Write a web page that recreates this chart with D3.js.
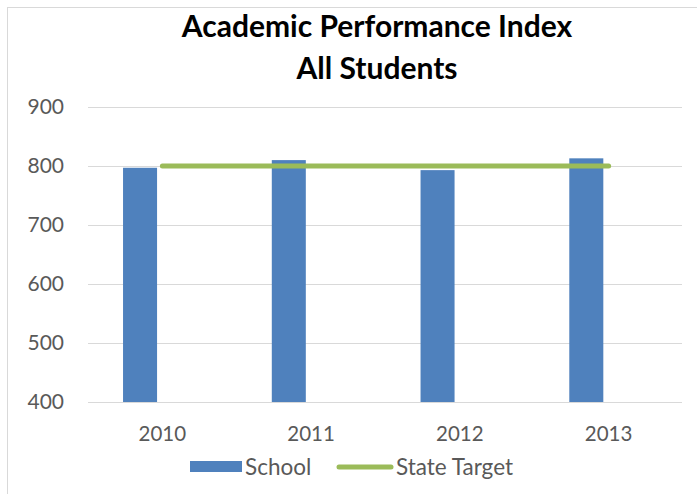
<!DOCTYPE html>
<html lang="en">
<head>
<meta charset="utf-8">
<title>Academic Performance Index</title>
<script src="https://d3js.org/d3.v7.min.js"></script>
<style>
  body { margin: 0; background: #fff; }
  svg { display: block; }
  text { font-family: Lato, "Open Sans", sans-serif; }
</style>
</head>
<body>
<script>
// data
var years = ["2010", "2011", "2012", "2013"];
var school = [797, 810, 793, 813];
var stateTarget = [800, 800, 800, 800];
var yTicks = [400, 500, 600, 700, 800, 900];

var width = 697, height = 494;

var svg = d3.select("body").append("svg")
    .attr("width", width)
    .attr("height", height);

// chart frame
svg.append("rect")
    .attr("x", 7.5).attr("y", 7.5)
    .attr("width", width).attr("height", height)
    .attr("fill", "#fff")
    .attr("stroke", "#d9d9d9")
    .attr("stroke-width", 1);

// title
var title = svg.append("text")
    .attr("text-anchor", "middle")
    .attr("font-weight", "bold")
    .attr("font-size", 30)
    .attr("fill", "#000");
title.append("tspan").attr("x", 377).attr("y", 37).text("Academic Performance Index");
title.append("tspan").attr("x", 377).attr("y", 79).text("All Students");

var x = d3.scaleBand()
    .domain(years)
    .range([88, 683])
    .paddingInner(0)
    .paddingOuter(0);

var sub = d3.scaleBand()
    .domain(["School", "State Target"])
    .range([0, x.bandwidth()])
    .paddingInner(0.238)
    .paddingOuter(0.785);

var y = d3.scaleLinear()
    .domain([400, 900])
    .range([402, 107]);

// gridlines
svg.append("g")
    .selectAll("line")
    .data(yTicks)
    .join("line")
    .attr("x1", 88).attr("x2", 682)
    .attr("y1", d => Math.round(y(d)) + 0.5)
    .attr("y2", d => Math.round(y(d)) + 0.5)
    .attr("stroke", "#d9d9d9")
    .attr("stroke-width", 1);

// y labels
svg.append("g")
    .selectAll("text")
    .data(yTicks)
    .join("text")
    .attr("x", 64)
    .attr("y", d => y(d))
    .attr("dy", "0.35em")
    .attr("text-anchor", "end")
    .attr("font-size", 21)
    .attr("fill", "#595959")
    .text(d => d);

// x labels
svg.append("g")
    .selectAll("text")
    .data(years)
    .join("text")
    .attr("x", d => x(d) + x.bandwidth() / 2)
    .attr("y", 441)
    .attr("text-anchor", "middle")
    .attr("font-size", 20.5)
    .attr("fill", "#595959")
    .text(d => d);

// bars
svg.append("g")
    .selectAll("rect")
    .data(years)
    .join("rect")
    .attr("x", d => x(d) + sub("School"))
    .attr("width", sub.bandwidth())
    .attr("y", (d, i) => y(school[i]))
    .attr("height", (d, i) => y(400) - y(school[i]))
    .attr("fill", "#4f81bd");

// state target line
var line = d3.line()
    .x(d => x(d.year) + x.bandwidth() / 2)
    .y(d => y(d.value));

svg.append("path")
    .datum(years.map((yr, i) => ({ year: yr, value: stateTarget[i] })))
    .attr("d", line)
    .attr("fill", "none")
    .attr("stroke", "#9bbb59")
    .attr("stroke-width", 5)
    .attr("stroke-linecap", "round");

// legend
var legend = svg.append("g");
legend.append("rect")
    .attr("x", 190).attr("y", 461)
    .attr("width", 52).attr("height", 11)
    .attr("fill", "#4f81bd");
legend.append("text")
    .attr("x", 245).attr("y", 467)
    .attr("dy", "0.35em")
    .attr("font-size", 22.5)
    .attr("fill", "#595959")
    .text("School");
legend.append("line")
    .attr("x1", 339).attr("x2", 391)
    .attr("y1", 467).attr("y2", 467)
    .attr("stroke", "#9bbb59")
    .attr("stroke-width", 5)
    .attr("stroke-linecap", "round");
legend.append("text")
    .attr("x", 396).attr("y", 467)
    .attr("dy", "0.35em")
    .attr("font-size", 22.5)
    .attr("fill", "#595959")
    .text("State Target");
</script>
</body>
</html>
